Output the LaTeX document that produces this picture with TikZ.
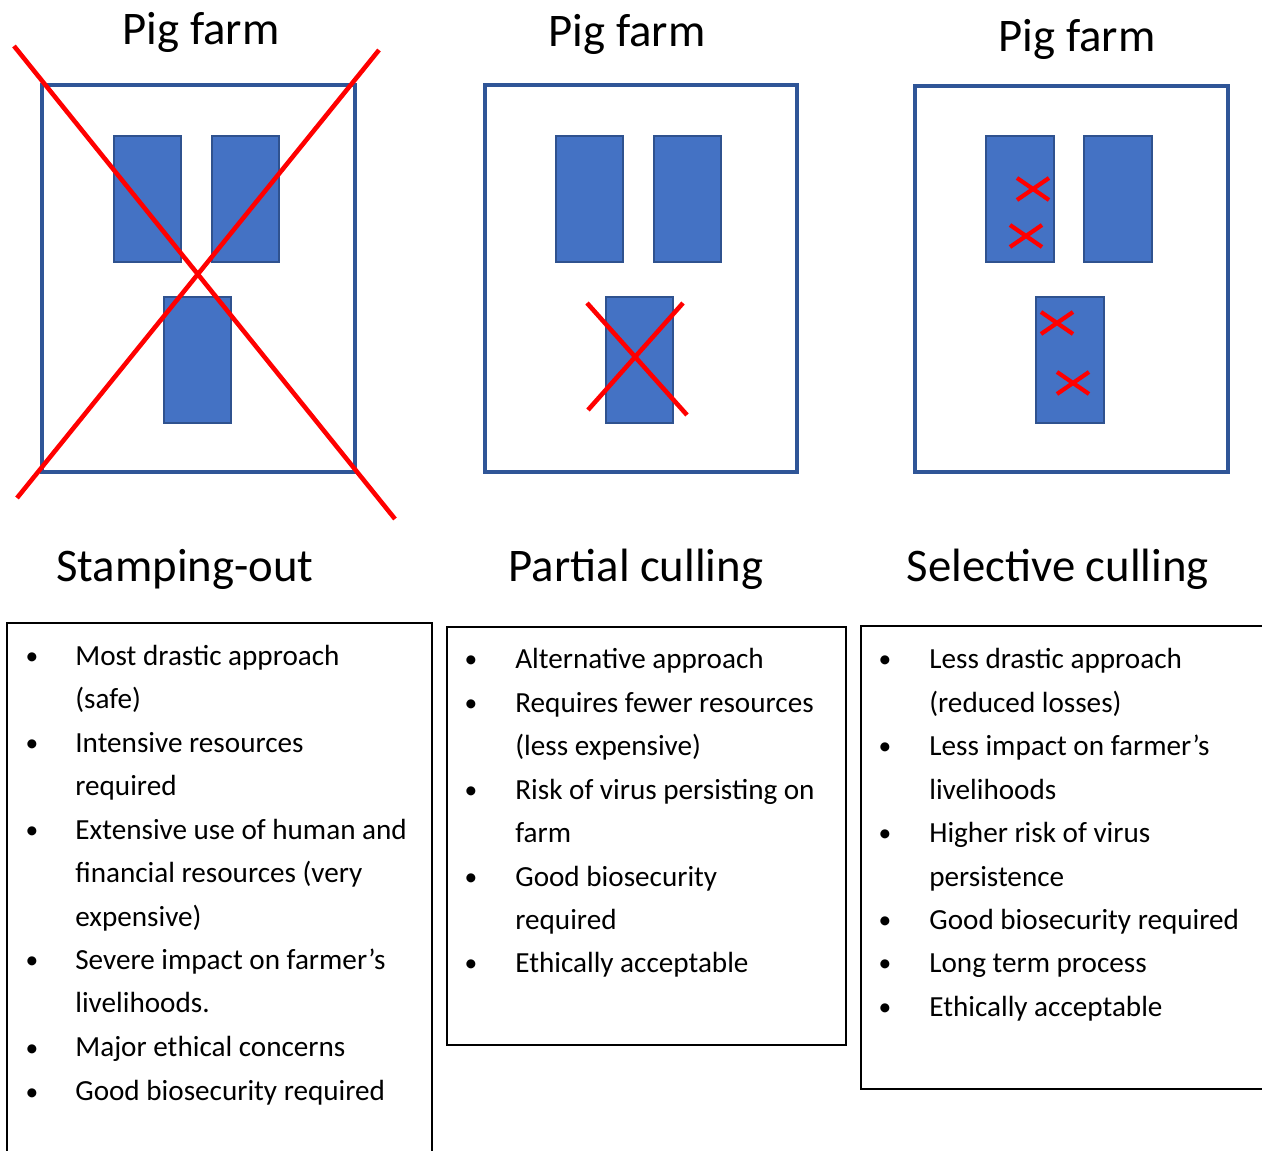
\documentclass[tikz,border=0pt]{standalone}
\usepackage{fontspec}
\setmainfont{Carlito}
\definecolor{barnfill}{HTML}{4472C4}
\definecolor{barnedge}{HTML}{2F528F}
\definecolor{farmedge}{HTML}{2F5597}
\definecolor{crossred}{HTML}{FF0000}
\tikzset{
  farm/.style={draw=farmedge, line width=2.4pt},
  barn/.style={draw=barnedge, fill=barnfill, line width=1.1pt},
  bigcross/.style={draw=crossred, line width=2.6pt},
  smallcross/.style={draw=crossred, line width=2.4pt},
  listbox/.style={draw=black, line width=0.9pt},
  ttl/.style={anchor=base, inner sep=0pt, font=\fontsize{26.6}{30}\selectfont},
  txt/.style={anchor=base west, inner sep=0pt, font=\fontsize{16.6}{20}\selectfont},
  bul/.style={anchor=base, inner sep=0pt, font=\fontsize{14.5}{18}\selectfont},
}
\begin{document}
\begin{tikzpicture}[x=0.02cm,y=-0.02cm]
\useasboundingbox (0,0) rectangle (1262,1151);
\clip (0,0) rectangle (1262,1151);
\fill[white] (0,0) rectangle (1262,1151);

% ---- Farm 1: stamping-out
\node[ttl] (t1) at (201,45) {Pig farm};
\draw[farm] (42,85) rectangle (355,472);
\draw[barn] (114,136) rectangle (181,262);
\draw[barn] (212,136) rectangle (279,262);
\draw[barn] (164,297) rectangle (231,423);
\draw[bigcross] (14,46) -- (395,519);
\draw[bigcross] (379,50) -- (17,498);
\node[ttl] (s1) at (185,582) {Stamping-out};

% ---- Farm 2: partial culling
\node[ttl] (t2) at (627,47) {Pig farm};
\draw[farm] (485,85) rectangle (797,472);
\draw[barn] (556,136) rectangle (623,262);
\draw[barn] (654,136) rectangle (721,262);
\draw[barn] (606,297) rectangle (673,423);
\draw[bigcross] (587,303) -- (687,415);
\draw[bigcross] (683,303) -- (588,410);
\node[ttl] (s2) at (636,582) {Partial culling};

% ---- Farm 3: selective culling
\node[ttl] (t3) at (1077,52) {Pig farm};
\draw[farm] (915,86) rectangle (1228,472);
\draw[barn] (986,136) rectangle (1054,262);
\draw[barn] (1084,136) rectangle (1152,262);
\draw[barn] (1036,297) rectangle (1104,423);
\foreach \cx/\cy in {1033/189, 1026/236, 1057/323, 1073/383}{
  \draw[smallcross] (\cx-16,\cy-11) -- (\cx+16,\cy+11);
  \draw[smallcross] (\cx-16,\cy+11) -- (\cx+16,\cy-11);
}
\node[ttl] (s3) at (1058,582) {Selective culling};

% ---- List boxes
\draw[listbox] (7,623) rectangle (432,1175);
\draw[listbox] (447,627) rectangle (846,1045);
\draw[listbox] (861,626) rectangle (1280,1089);

% Box 1
\foreach \y in {655,742,829,959,1046,1090}{ \node[bul] at (32,\y+10) {•}; }
\foreach \y/\t [count=\i] in {655/Most drastic approach, 698/(safe), 742/Intensive resources, 785/required, 829/Extensive use of human and, 872/financial resources (very, 916/expensive), 959/Severe impact on farmer’s, 1002/livelihoods., 1046/Major ethical concerns, 1090/Good biosecurity required}{
  \node[txt] (a\i) at (75,\y+10.5) {\t};
}

% Box 2
\foreach \y in {658,702,789,876,962}{ \node[bul] at (471,\y+10) {•}; }
\foreach \y/\t [count=\i] in {658/Alternative approach, 702/Requires fewer resources, 745/(less expensive), 789/Risk of virus persisting on, 832/farm, 876/Good biosecurity, 919/required, 962/Ethically acceptable}{
  \node[txt] (b\i) at (515,\y+10.5) {\t};
}

% Box 3
\foreach \y in {658,745,832,919,962,1006}{ \node[bul] at (885,\y+10) {•}; }
\foreach \y/\t [count=\i] in {658/Less drastic approach, 702/(reduced losses), 745/Less impact on farmer’s, 789/livelihoods, 832/Higher risk of virus, 876/persistence, 919/Good biosecurity required, 962/Long term process, 1006/Ethically acceptable}{
  \node[txt] (c\i) at (929,\y+10.5) {\t};
}
\end{tikzpicture}
\end{document}
